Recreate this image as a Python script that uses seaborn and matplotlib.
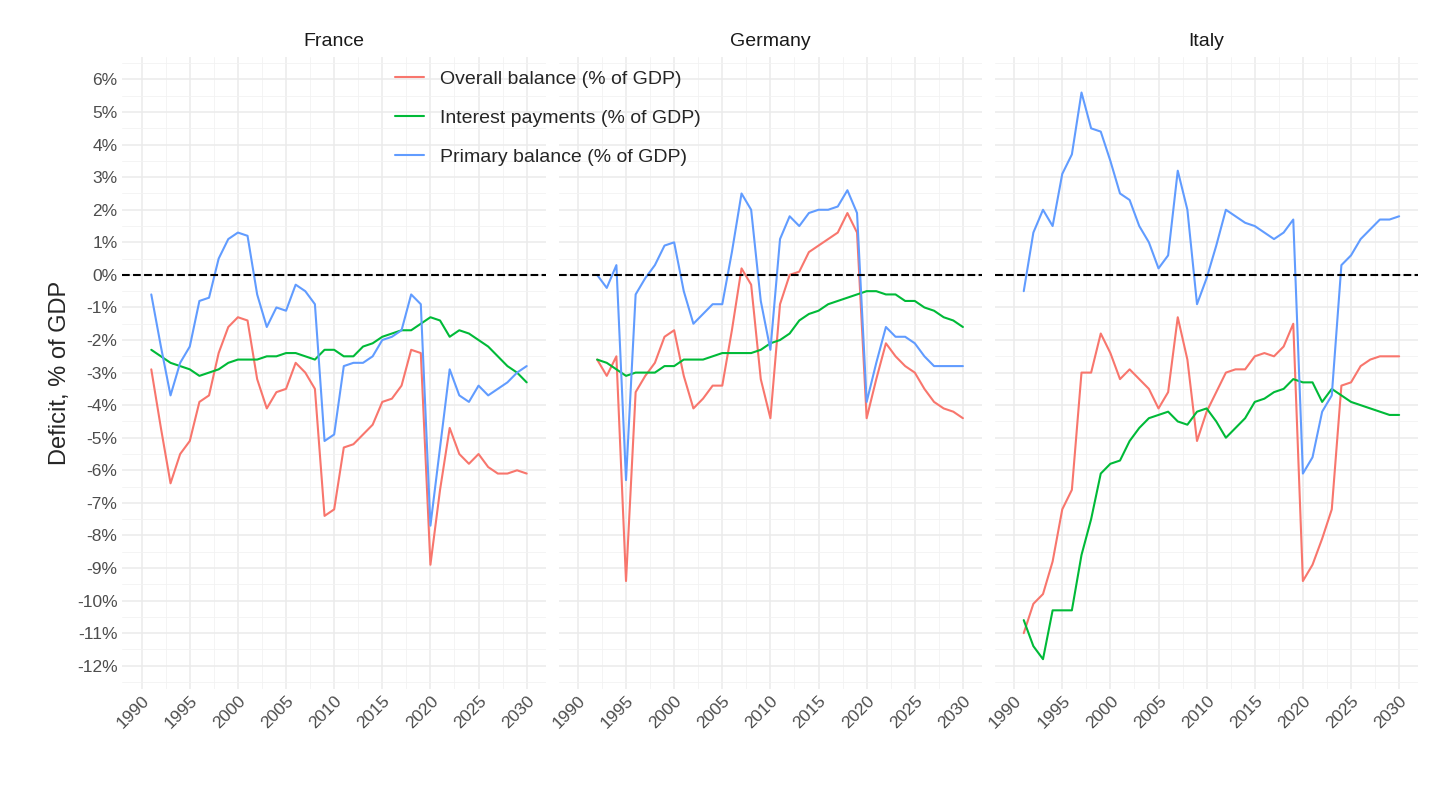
import numpy as np
import pandas as pd
import matplotlib
matplotlib.use("Agg")
import matplotlib.pyplot as plt
from matplotlib.ticker import MultipleLocator, FuncFormatter
import seaborn as sns

years_fr = list(range(1991, 2031))
years_de = list(range(1992, 2031))
years_it = list(range(1991, 2031))

fr_overall = [-2.9, -4.7, -6.4, -5.5, -5.1, -3.9, -3.7, -2.4, -1.6, -1.3, -1.4, -3.2, -4.1, -3.6, -3.5, -2.7, -3.0, -3.5, -7.4, -7.2,
              -5.3, -5.2, -4.9, -4.6, -3.9, -3.8, -3.4, -2.3, -2.4, -8.9, -6.6, -4.7, -5.5, -5.8, -5.5, -5.9, -6.1, -6.1, -6.0, -6.1]
fr_interest = [-2.3, -2.5, -2.7, -2.8, -2.9, -3.1, -3.0, -2.9, -2.7, -2.6, -2.6, -2.6, -2.5, -2.5, -2.4, -2.4, -2.5, -2.6, -2.3, -2.3,
               -2.5, -2.5, -2.2, -2.1, -1.9, -1.8, -1.7, -1.7, -1.5, -1.3, -1.4, -1.9, -1.7, -1.8, -2.0, -2.2, -2.5, -2.8, -3.0, -3.3]
fr_primary = [-0.6, -2.2, -3.7, -2.7, -2.2, -0.8, -0.7, 0.5, 1.1, 1.3, 1.2, -0.6, -1.6, -1.0, -1.1, -0.3, -0.5, -0.9, -5.1, -4.9,
              -2.8, -2.7, -2.7, -2.5, -2.0, -1.9, -1.7, -0.6, -0.9, -7.7, -5.3, -2.9, -3.7, -3.9, -3.4, -3.7, -3.5, -3.3, -3.0, -2.8]

de_overall = [-2.6, -3.1, -2.5, -9.4, -3.6, -3.1, -2.7, -1.9, -1.7, -3.1, -4.1, -3.8, -3.4, -3.4, -1.7, 0.2, -0.3, -3.2, -4.4,
              -0.9, 0.0, 0.1, 0.7, 0.9, 1.1, 1.3, 1.9, 1.3, -4.4, -3.2, -2.1, -2.5, -2.8, -3.0, -3.5, -3.9, -4.1, -4.2, -4.4]
de_interest = [-2.6, -2.7, -2.9, -3.1, -3.0, -3.0, -3.0, -2.8, -2.8, -2.6, -2.6, -2.6, -2.5, -2.4, -2.4, -2.4, -2.4, -2.3, -2.1,
               -2.0, -1.8, -1.4, -1.2, -1.1, -0.9, -0.8, -0.7, -0.6, -0.5, -0.5, -0.6, -0.6, -0.8, -0.8, -1.0, -1.1, -1.3, -1.4, -1.6]
de_primary = [0.0, -0.4, 0.3, -6.3, -0.6, -0.1, 0.3, 0.9, 1.0, -0.5, -1.5, -1.2, -0.9, -0.9, 0.7, 2.5, 2.0, -0.8, -2.3,
              1.1, 1.8, 1.5, 1.9, 2.0, 2.0, 2.1, 2.6, 1.9, -3.9, -2.7, -1.6, -1.9, -1.9, -2.1, -2.5, -2.8, -2.8, -2.8, -2.8]

it_overall = [-11.0, -10.1, -9.8, -8.8, -7.2, -6.6, -3.0, -3.0, -1.8, -2.4, -3.2, -2.9, -3.2, -3.5, -4.1, -3.6, -1.3, -2.6, -5.1, -4.2,
              -3.6, -3.0, -2.9, -2.9, -2.5, -2.4, -2.5, -2.2, -1.5, -9.4, -8.9, -8.1, -7.2, -3.4, -3.3, -2.8, -2.6, -2.5, -2.5, -2.5]
it_interest = [-10.6, -11.4, -11.8, -10.3, -10.3, -10.3, -8.6, -7.5, -6.1, -5.8, -5.7, -5.1, -4.7, -4.4, -4.3, -4.2, -4.5, -4.6, -4.2, -4.1,
               -4.5, -5.0, -4.7, -4.4, -3.9, -3.8, -3.6, -3.5, -3.2, -3.3, -3.3, -3.9, -3.5, -3.7, -3.9, -4.0, -4.1, -4.2, -4.3, -4.3]
it_primary = [-0.5, 1.3, 2.0, 1.5, 3.1, 3.7, 5.6, 4.5, 4.4, 3.5, 2.5, 2.3, 1.5, 1.0, 0.2, 0.6, 3.2, 2.0, -0.9, -0.1,
              0.9, 2.0, 1.8, 1.6, 1.5, 1.3, 1.1, 1.3, 1.7, -6.1, -5.6, -4.2, -3.7, 0.3, 0.6, 1.1, 1.4, 1.7, 1.7, 1.8]

series = ["Overall balance (% of GDP)", "Interest payments (% of GDP)", "Primary balance (% of GDP)"]
colors = ["#F8766D", "#00BA38", "#619CFF"]
countries = ["France", "Germany", "Italy"]

rows = []
for country, yrs, vals in [("France", years_fr, [fr_overall, fr_interest, fr_primary]),
                           ("Germany", years_de, [de_overall, de_interest, de_primary]),
                           ("Italy", years_it, [it_overall, it_interest, it_primary])]:
    for name, v in zip(series, vals):
        for y, x in zip(yrs, v):
            rows.append({"country": country, "year": y, "series": name, "value": x})
df = pd.DataFrame(rows)

sns.set_style("white")
plt.rcParams["font.family"] = ["Liberation Sans", "DejaVu Sans"]

fig, axes = plt.subplots(1, 3, figsize=(14.4, 8.1), dpi=100, sharey=True)
fig.subplots_adjust(left=0.085, right=0.985, top=0.93, bottom=0.15, wspace=0.03)

for ax, country in zip(axes, countries):
    sub = df[df["country"] == country]
    sns.lineplot(data=sub, x="year", y="value", hue="series", hue_order=series,
                 palette=colors, ax=ax, linewidth=1.5, legend=(country == "France"))
    ax.axhline(0, color="black", linestyle="--", linewidth=1.5)
    ax.set_xlim(1988, 2032)
    ax.set_ylim(-12.7, 6.7)
    ax.xaxis.set_major_locator(MultipleLocator(5))
    ax.xaxis.set_minor_locator(MultipleLocator(2.5))
    ax.yaxis.set_major_locator(MultipleLocator(1))
    ax.yaxis.set_minor_locator(MultipleLocator(0.5))
    ax.yaxis.set_major_formatter(FuncFormatter(lambda v, p: f"{v:.0f}%"))
    ax.grid(which="major", color="#EBEBEB", linewidth=1.1)
    ax.grid(which="minor", color="#F2F2F2", linewidth=0.6)
    ax.set_axisbelow(True)
    for s in ax.spines.values():
        s.set_visible(False)
    ax.tick_params(axis="both", which="both", length=0, labelsize=12.5, labelcolor="#4D4D4D")
    for lab in ax.get_xticklabels():
        lab.set_rotation(45)
        lab.set_ha("right")
        lab.set_rotation_mode("anchor")
    ax.set_title(country, fontsize=14, color="#1A1A1A", pad=8)
    ax.set_xlabel("")
    ax.set_ylabel("")

axes[0].set_ylabel("Deficit, % of GDP", fontsize=17)
handles, labels = axes[0].get_legend_handles_labels()
axes[0].get_legend().remove()
fig.legend(handles, labels, loc="upper left", bbox_to_anchor=(0.262, 0.935), frameon=False,
           fontsize=14, handlelength=1.5, labelspacing=1.1)

fig.savefig("out.png", dpi=100)
